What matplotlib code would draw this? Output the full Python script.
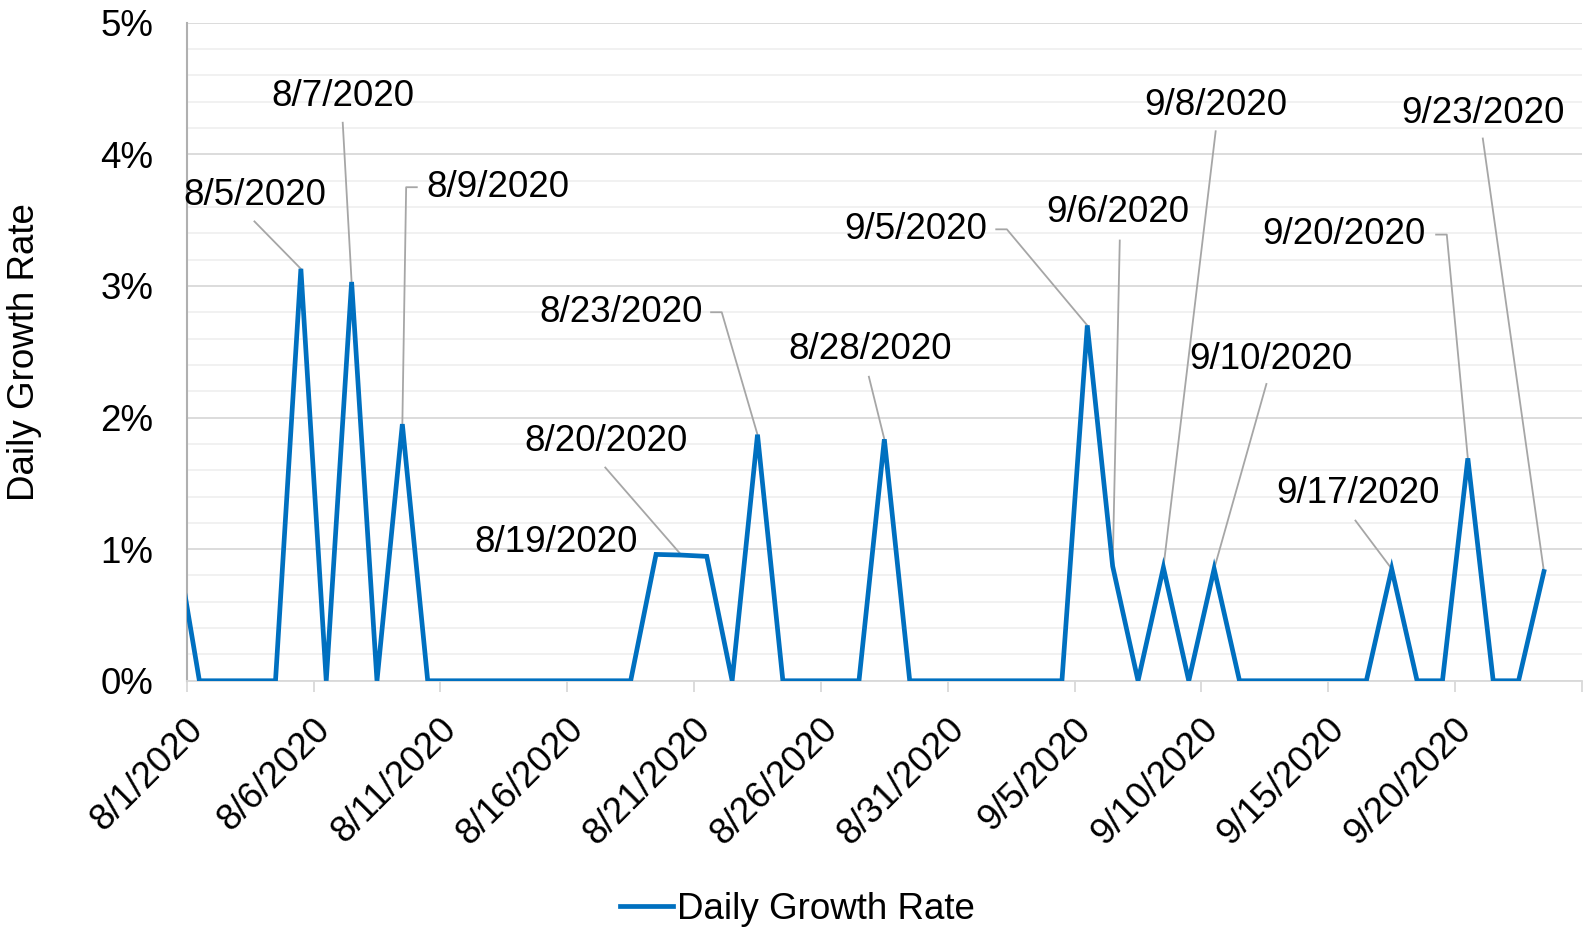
import numpy as np
import pandas as pd
import matplotlib
matplotlib.use('Agg')
import matplotlib.pyplot as plt
from matplotlib.ticker import MultipleLocator, FuncFormatter
from matplotlib.transforms import ScaledTranslation

plt.rcParams['font.family'] = ['Liberation Sans', 'DejaVu Sans']

# one value per day (percent); 7/31 sits left of the axis, only its slope shows
dates = pd.date_range('2020-07-31', '2020-09-23', freq='D')
growth = [1.15,
          0, 0, 0, 0, 3.13, 0, 3.03, 0, 1.95, 0,          # 8/1 - 8/10
          0, 0, 0, 0, 0, 0, 0, 0, 0.96, 0.955,            # 8/11 - 8/20
          0.945, 0, 1.87, 0, 0, 0, 0, 1.835, 0, 0, 0,     # 8/21 - 8/31
          0, 0, 0, 0, 2.70, 0.87, 0, 0.86, 0, 0.85,       # 9/1 - 9/10
          0, 0, 0, 0, 0, 0, 0.85, 0, 0, 1.69,             # 9/11 - 9/20
          0, 0, 0.83]                                     # 9/21 - 9/23

# data labels that were kept on the chart
label_dates = ['2020-08-05', '2020-08-07', '2020-08-09', '2020-08-19', '2020-08-20',
               '2020-08-23', '2020-08-28', '2020-09-05', '2020-09-06', '2020-09-08',
               '2020-09-10', '2020-09-17', '2020-09-20', '2020-09-23']

# label placement (days from 8/1, percent), leader start, and whether leader has a hook
label_pos = [(2.68, 3.69), (6.15, 4.44), (12.25, 3.75), (14.57, 1.05), (16.52, 1.82),
             (17.12, 2.80), (26.93, 2.52), (28.72, 3.43), (36.70, 3.56), (40.57, 4.37),
             (42.72, 2.44), (46.15, 1.42), (45.63, 3.39), (51.09, 4.31)]
leader_from = [(2.67, 3.49), (6.15, 4.24), (9.07, 3.75), None, (16.50, 1.62),
               (20.67, 2.80), (26.89, 2.31), (31.91, 3.43), (36.78, 3.345), (40.56, 4.175),
               (42.56, 2.255), (46.07, 1.217), (49.25, 3.39), (51.09, 4.12)]
hook = [False, False, True, False, False, True, False, True, False, False,
        False, False, True, False]

blue = '#0070C0'
fs = 26.5

start = pd.Timestamp('2020-08-01')
xpos = (dates - start).days.to_numpy() + 0.5
vals = np.array(growth)

fig = plt.figure(figsize=(15.85, 9.3), dpi=100)
ax = fig.add_axes([0.1178, 0.268, 0.8803, 0.7076])

line, = ax.plot(xpos, vals, color=blue, lw=3.4, solid_joinstyle='miter', zorder=3,
                label='Daily Growth Rate')

# data labels + leader lines
for d, (lx, ly), lf, hk in zip(label_dates, label_pos, leader_from, hook):
    ts = pd.Timestamp(d)
    i = list(dates).index(ts)
    px, py = xpos[i], vals[i]
    ax.text(lx, ly, f'{ts.month}/{ts.day}/{ts.year}', ha='center', va='center',
            fontsize=fs, color='black', zorder=4)
    if lf is None:
        continue
    xs, ys = [lf[0]], [lf[1]]
    if hk:
        xs.append(lf[0] + (0.42 if px > lf[0] else -0.42))
        ys.append(lf[1])
    xs.append(px)
    ys.append(py)
    ax.plot(xs, ys, color='#a6a6a6', lw=1.3, zorder=2)

ax.set_xlim(0, 55)
ax.set_ylim(0, 5)

ax.yaxis.set_major_locator(MultipleLocator(1))
ax.yaxis.set_minor_locator(MultipleLocator(0.2))
ax.yaxis.set_major_formatter(FuncFormatter(lambda v, p: f'{v:.0f}%'))
ax.tick_params(axis='y', which='both', length=0, labelsize=fs, pad=24)
ax.tick_params(axis='x', which='major', length=8, width=1.3, color='#d9d9d9',
               direction='out', pad=23)

ticks = np.arange(0, 56, 5)
ax.set_xticks(ticks)
tick_labels = []
for t in ticks:
    if t < 55:
        dd = start + pd.Timedelta(days=int(t))
        tick_labels.append(f'{dd.month}/{dd.day}/{dd.year}')
    else:
        tick_labels.append('')
ax.set_xticklabels(tick_labels, rotation=45, ha='right', va='center',
                   rotation_mode='anchor', fontsize=fs)
shift = ScaledTranslation(0.11, 0, fig.dpi_scale_trans)
for lab in ax.get_xticklabels():
    lab.set_transform(lab.get_transform() + shift)

ax.grid(axis='y', which='major', color='#d9d9d9', lw=1.3, zorder=0)
ax.grid(axis='y', which='minor', color='#f0f0f0', lw=1.3, zorder=0)
ax.set_axisbelow(True)

for s in ['top', 'right']:
    ax.spines[s].set_visible(False)
ax.spines['left'].set_color('#b0b0b0')
ax.spines['left'].set_linewidth(1.5)
ax.spines['bottom'].set_color('#d9d9d9')
ax.spines['bottom'].set_linewidth(1.3)

ax.set_ylabel('Daily Growth Rate', fontsize=fs)
ax.yaxis.set_label_coords(-0.1037, 0.5)

fig.legend(handles=[line], loc='center', bbox_to_anchor=(797 / 1585, 1 - 909 / 930),
           frameon=False, fontsize=fs, handlelength=1.45, handletextpad=0.1)

fig.savefig('out.png', dpi=100)
